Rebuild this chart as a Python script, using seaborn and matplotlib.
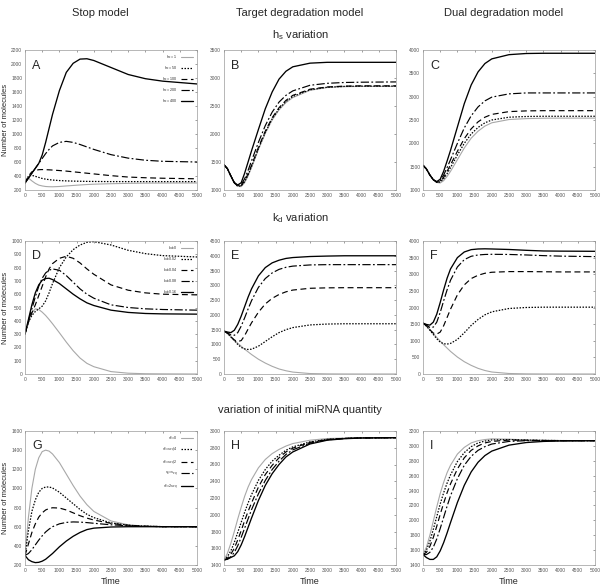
import matplotlib
matplotlib.use("Agg")
import matplotlib.pyplot as plt
import seaborn as sns

# shared time grid
T = [0, 100, 200, 300, 400, 500, 600, 700, 800, 1000, 1200, 1400, 1600, 1800, 2000, 2500, 3000, 3500, 4000, 5000]

# A: stop model, h_s variation
A_hs1 = [300, 370, 330, 295, 270, 258, 250, 247, 246, 250, 258, 265, 272, 278, 283, 290, 295, 298, 299, 300]
A_hs50 = [300, 400, 410, 395, 380, 365, 355, 348, 342, 335, 330, 327, 325, 323, 322, 320, 320, 320, 320, 320]
A_hs100 = [300, 400, 460, 480, 490, 492, 490, 488, 485, 478, 470, 460, 450, 440, 430, 405, 385, 375, 368, 360]
A_hs200 = [300, 370, 440, 510, 580, 650, 720, 780, 830, 880, 895, 880, 850, 815, 780, 705, 655, 625, 610, 600]
A_hs400 = [300, 370, 440, 510, 580, 700, 880, 1080, 1280, 1620, 1880, 2010, 2070, 2075, 2050, 1950, 1850, 1790, 1755, 1715]

# B: target degradation, h_s variation
B_hs1 = [1450, 1380, 1250, 1130, 1065, 1060, 1130, 1250, 1400, 1720, 2010, 2250, 2430, 2560, 2650, 2780, 2830, 2845, 2850, 2850]
B_hs50 = [1450, 1380, 1250, 1130, 1065, 1075, 1150, 1270, 1420, 1740, 2030, 2270, 2450, 2580, 2670, 2790, 2835, 2850, 2855, 2855]
B_hs100 = [1450, 1380, 1250, 1130, 1070, 1080, 1160, 1290, 1440, 1760, 2050, 2290, 2470, 2600, 2690, 2800, 2840, 2855, 2860, 2860]
B_hs200 = [1450, 1380, 1250, 1130, 1080, 1100, 1200, 1350, 1520, 1850, 2150, 2390, 2570, 2690, 2770, 2870, 2905, 2920, 2925, 2930]
B_hs400 = [1450, 1380, 1250, 1130, 1090, 1130, 1300, 1500, 1700, 2080, 2450, 2750, 2980, 3120, 3200, 3265, 3280, 3280, 3280, 3280]

# C: dual degradation, h_s variation
C_hs1 = [1530, 1450, 1320, 1220, 1160, 1150, 1200, 1290, 1400, 1650, 1900, 2110, 2260, 2370, 2440, 2510, 2530, 2538, 2540, 2540]
C_hs50 = [1530, 1450, 1320, 1220, 1165, 1170, 1240, 1350, 1480, 1750, 2000, 2200, 2340, 2440, 2500, 2560, 2575, 2580, 2580, 2580]
C_hs100 = [1530, 1450, 1320, 1220, 1170, 1180, 1270, 1400, 1540, 1830, 2100, 2310, 2460, 2560, 2620, 2680, 2695, 2700, 2700, 2700]
C_hs200 = [1530, 1450, 1320, 1220, 1170, 1200, 1320, 1480, 1650, 2000, 2330, 2590, 2780, 2910, 2990, 3060, 3080, 3080, 3080, 3080]
C_hs400 = [1530, 1450, 1320, 1220, 1180, 1230, 1400, 1620, 1850, 2350, 2850, 3250, 3530, 3710, 3810, 3900, 3925, 3930, 3930, 3930]

# D: stop model, k_d variation
D_kd0 = [300, 400, 460, 490, 485, 465, 440, 410, 378, 310, 240, 175, 120, 80, 55, 18, 6, 2, 1, 0]
D_kd002 = [300, 390, 440, 470, 490, 510, 550, 610, 680, 800, 880, 935, 970, 990, 995, 970, 930, 905, 890, 880]
D_kd004 = [300, 390, 460, 520, 590, 660, 730, 790, 830, 870, 885, 870, 835, 790, 750, 670, 630, 610, 600, 595]
D_kd008 = [300, 400, 490, 580, 660, 720, 760, 780, 790, 780, 740, 690, 640, 600, 570, 520, 500, 490, 485, 480]
D_kd016 = [300, 410, 520, 610, 670, 705, 718, 720, 710, 680, 640, 600, 565, 535, 515, 480, 463, 455, 452, 450]

# E: target degradation, k_d variation
E_kd0 = [1450, 1380, 1260, 1150, 1040, 940, 840, 750, 660, 500, 370, 260, 170, 110, 65, 15, 4, 1, 0, 0]
E_kd002 = [1450, 1380, 1250, 1130, 1000, 900, 850, 830, 840, 940, 1100, 1260, 1400, 1500, 1570, 1660, 1690, 1700, 1700, 1700]
E_kd004 = [1450, 1380, 1260, 1150, 1100, 1130, 1300, 1520, 1730, 2090, 2370, 2560, 2690, 2780, 2840, 2900, 2915, 2920, 2920, 2920]
E_kd008 = [1450, 1400, 1320, 1310, 1400, 1620, 1900, 2200, 2480, 2930, 3230, 3420, 3540, 3610, 3650, 3690, 3700, 3700, 3700, 3700]
E_kd016 = [1450, 1420, 1400, 1480, 1680, 1960, 2280, 2600, 2880, 3320, 3600, 3760, 3850, 3910, 3940, 3975, 3990, 4000, 4000, 4000]

# F: dual degradation, k_d variation
F_kd0 = [1530, 1440, 1330, 1220, 1100, 990, 880, 780, 680, 510, 370, 260, 170, 105, 60, 15, 4, 1, 0, 0]
F_kd002 = [1530, 1440, 1320, 1190, 1060, 960, 910, 900, 920, 1040, 1240, 1460, 1640, 1780, 1870, 1970, 2000, 2010, 2010, 2010]
F_kd004 = [1530, 1450, 1330, 1230, 1200, 1260, 1450, 1700, 1950, 2380, 2680, 2870, 2970, 3030, 3060, 3080, 3080, 3075, 3070, 3070]
F_kd008 = [1530, 1470, 1400, 1410, 1560, 1850, 2200, 2530, 2820, 3220, 3440, 3540, 3580, 3595, 3600, 3595, 3580, 3560, 3545, 3530]
F_kd016 = [1530, 1490, 1470, 1560, 1800, 2150, 2530, 2880, 3160, 3500, 3670, 3740, 3760, 3765, 3760, 3745, 3720, 3700, 3695, 3690]

# G: stop model, initial miRNA quantity
G_s0 = [300, 700, 1000, 1200, 1320, 1385, 1400, 1390, 1360, 1270, 1150, 1030, 920, 830, 760, 660, 620, 605, 601, 600]
G_s1 = [300, 560, 760, 880, 960, 1000, 1015, 1015, 1005, 960, 900, 840, 780, 730, 695, 640, 615, 605, 601, 600]
G_s2 = [300, 420, 540, 630, 700, 745, 775, 790, 798, 795, 775, 745, 715, 690, 670, 635, 615, 605, 601, 600]
G_s3 = [300, 320, 360, 410, 460, 505, 545, 575, 600, 630, 645, 650, 648, 643, 636, 620, 610, 604, 601, 600]
G_s4 = [300, 255, 235, 225, 228, 240, 260, 290, 320, 390, 450, 500, 540, 570, 585, 597, 600, 600, 600, 600]

# H: target degradation, initial miRNA quantity
H_s0 = [1460, 1540, 1660, 1800, 1950, 2090, 2220, 2330, 2420, 2560, 2660, 2730, 2780, 2820, 2850, 2890, 2910, 2915, 2920, 2920]
H_s1 = [1460, 1500, 1570, 1670, 1790, 1910, 2030, 2140, 2240, 2410, 2540, 2640, 2710, 2770, 2810, 2870, 2900, 2912, 2918, 2920]
H_s2 = [1460, 1480, 1530, 1600, 1700, 1810, 1930, 2040, 2140, 2330, 2480, 2590, 2680, 2750, 2795, 2865, 2898, 2912, 2918, 2920]
H_s3 = [1460, 1470, 1500, 1550, 1630, 1730, 1840, 1950, 2060, 2250, 2410, 2540, 2640, 2720, 2775, 2855, 2895, 2910, 2917, 2920]
H_s4 = [1460, 1470, 1490, 1510, 1560, 1640, 1740, 1850, 1960, 2170, 2350, 2490, 2600, 2690, 2750, 2845, 2890, 2908, 2916, 2920]

# I: dual degradation, initial miRNA quantity
I_s0 = [1540, 1640, 1800, 1990, 2180, 2360, 2510, 2640, 2740, 2890, 2980, 3040, 3070, 3085, 3095, 3090, 3080, 3075, 3072, 3070]
I_s1 = [1540, 1600, 1720, 1880, 2050, 2220, 2370, 2500, 2610, 2790, 2910, 2990, 3040, 3065, 3080, 3085, 3078, 3074, 3071, 3070]
I_s2 = [1540, 1570, 1650, 1770, 1920, 2080, 2230, 2370, 2490, 2690, 2840, 2940, 3000, 3040, 3060, 3078, 3076, 3073, 3071, 3070]
I_s3 = [1540, 1540, 1570, 1640, 1750, 1890, 2040, 2190, 2330, 2560, 2740, 2860, 2940, 2990, 3025, 3060, 3070, 3070, 3070, 3070]
I_s4 = [1540, 1500, 1475, 1475, 1510, 1590, 1700, 1830, 1970, 2240, 2470, 2650, 2780, 2870, 2930, 3010, 3045, 3060, 3066, 3070]

hs_labels = ["$h_s$ = 1", "$h_s$ = 50", "$h_s$ = 100", "$h_s$ = 200", "$h_s$ = 400"]
kd_labels = ["$k_d$=0", "$k_d$=0.02", "$k_d$=0.04", "$k_d$=0.08", "$k_d$=0.16"]
s0_labels = ["$s_0$=0", "$s_0$=$s_{eq}$/4", "$s_0$=$s_{eq}$/2", "$s_0$=$s_{eq}$", "$s_0$=2$s_{eq}$"]

# per-curve style, same order everywhere: gray, dotted, dashed, dash-dot, solid
STYLES = [
    dict(color="#a8a8a8", linestyle="-", linewidth=0.8),
    dict(color="black", linestyle=(0, (1.2, 1.2)), linewidth=0.9),
    dict(color="black", linestyle=(0, (5, 3)), linewidth=0.85),
    dict(color="black", linestyle=(0, (7, 2, 1.5, 2)), linewidth=0.85),
    dict(color="black", linestyle="-", linewidth=0.95),
]

panels = [
    ("A", [A_hs1, A_hs50, A_hs100, A_hs200, A_hs400], (200, 2200, 200), hs_labels),
    ("B", [B_hs1, B_hs50, B_hs100, B_hs200, B_hs400], (1000, 3500, 500), None),
    ("C", [C_hs1, C_hs50, C_hs100, C_hs200, C_hs400], (1000, 4000, 500), None),
    ("D", [D_kd0, D_kd002, D_kd004, D_kd008, D_kd016], (0, 1000, 100), kd_labels),
    ("E", [E_kd0, E_kd002, E_kd004, E_kd008, E_kd016], (0, 4500, 500), None),
    ("F", [F_kd0, F_kd002, F_kd004, F_kd008, F_kd016], (0, 4000, 500), None),
    ("G", [G_s0, G_s1, G_s2, G_s3, G_s4], (200, 1600, 200), s0_labels),
    ("H", [H_s0, H_s1, H_s2, H_s3, H_s4], (1400, 3000, 200), None),
    ("I", [I_s0, I_s1, I_s2, I_s3, I_s4], (1400, 3200, 200), None),
]

sns.set_style("white")
plt.rcParams["font.family"] = ["Liberation Sans", "DejaVu Sans"]

fig = plt.figure(figsize=(6.0, 5.85), dpi=100)

col_left = [25 / 600, 224 / 600, 423 / 600]
col_w = 172 / 600
rows = [(1 - 190 / 585, 140 / 585), (1 - 374 / 585, 133 / 585), (1 - 565 / 585, 134 / 585)]

for i, (letter, series, (ymin, ymax, ystep), labels) in enumerate(panels):
    r, c = divmod(i, 3)
    ax = fig.add_axes([col_left[c], rows[r][0], col_w, rows[r][1]])
    for k, vals in enumerate(series):
        lab = labels[k] if labels else None
        sns.lineplot(x=T, y=vals, ax=ax, label=lab, legend=False, **STYLES[k])
    ax.set_xlim(0, 5000)
    ax.set_ylim(ymin, ymax)
    ax.set_xticks(range(0, 5001, 500))
    ax.set_yticks(range(ymin, ymax + 1, ystep))
    ax.tick_params(labelsize=3.5, colors="#555555", length=1.5, width=0.4,
                   direction="in", top=True, right=True, pad=2)
    for sp in ax.spines.values():
        sp.set_color("#9a9a9a")
        sp.set_linewidth(0.5)
    ax.set_xlabel("")
    ax.set_ylabel("")
    ax.text(0.04, 0.93, letter, transform=ax.transAxes, fontsize=9, va="top", ha="left")
    if labels:
        ax.legend(loc="upper right", fontsize=2.6, frameon=False, handlelength=3.5,
                  labelspacing=0.9, borderaxespad=0.6, handletextpad=0.8,
                  markerfirst=False)
    if c == 0:
        ax.set_ylabel("Number of molecules", fontsize=5.5, labelpad=1.5)
    if r == 2:
        ax.set_xlabel("Time", fontsize=6.5, labelpad=3)

# column and row headings
for x, t in zip([0.168, 0.5, 0.84], ["Stop model", "Target degradation model", "Dual degradation model"]):
    fig.text(x, 0.978, t, ha="center", va="center", fontsize=8)
fig.text(0.5, 0.94, "$\\mathregular{h_s}$ variation", ha="center", va="center", fontsize=8)
fig.text(0.5, 0.627, "$\\mathregular{k_d}$ variation", ha="center", va="center", fontsize=8)
fig.text(0.5, 0.299, "variation of initial miRNA quantity", ha="center", va="center", fontsize=8)

fig.savefig("out.png", dpi=100)
